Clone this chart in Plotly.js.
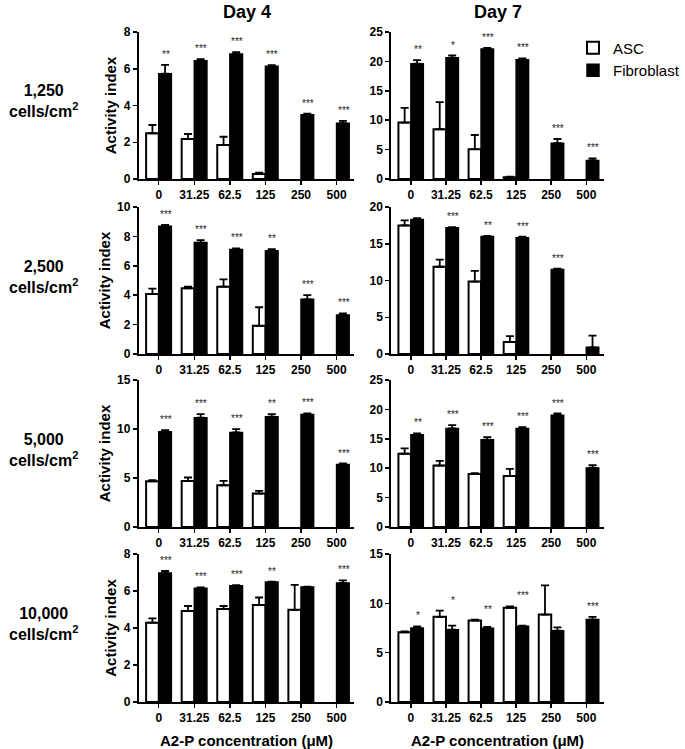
<!DOCTYPE html>
<html>
<head>
<meta charset="utf-8">
<script src="https://cdn.plot.ly/plotly-3.0.1.min.js"></script>
<style>html,body{margin:0;padding:0;background:#fff;}#chart{width:685px;height:749px;}</style>
</head>
<body>
<div id="chart"></div>
<script>
// ---------- DATA ----------
const categories = ['0', '31.25', '62.5', '125', '250', '500'];
const dayTitles = ['Day 4', 'Day 7'];
const densityLabels = ['1,250', '2,500', '5,000', '10,000'];
const seriesNames = ['ASC', 'Fibroblast'];

// Row 1: 1,250 cells/cm2
const d4r1Asc = [2.49, 2.18, 1.85, 0.27, null, null];
const d4r1AscErr = [0.45, 0.27, 0.45, 0.08, 0, 0];
const d4r1Fib = [5.73, 6.44, 6.80, 6.13, 3.49, 3.04];
const d4r1FibErr = [0.48, 0.08, 0.10, 0.07, 0.07, 0.12];
const d4r1Stars = ['**', '***', '***', '***', '***', '***'];

const d7r1Asc = [9.6, 8.46, 5.08, 0.28, null, null];
const d7r1AscErr = [2.5, 4.6, 2.4, 0.1, 0, 0];
const d7r1Fib = [19.6, 20.6, 22.1, 20.3, 6.1, 3.16];
const d7r1FibErr = [0.6, 0.4, 0.2, 0.2, 0.7, 0.34];
const d7r1Stars = ['**', '*', '***', '***', '***', '***'];

// Row 2: 2,500 cells/cm2
const d4r2Asc = [4.09, 4.47, 4.58, 1.92, null, null];
const d4r2AscErr = [0.36, 0.11, 0.5, 1.26, 0, 0];
const d4r2Fib = [8.69, 7.58, 7.11, 7.02, 3.72, 2.66];
const d4r2FibErr = [0.09, 0.16, 0.07, 0.11, 0.28, 0.11];
const d4r2Stars = ['***', '***', '***', '**', '***', '***'];

const d7r2Asc = [17.49, 11.87, 9.86, 1.64, null, null];
const d7r2AscErr = [0.68, 0.96, 1.46, 0.78, 0, 0];
const d7r2Fib = [18.3, 17.17, 15.98, 15.8, 11.5, 0.91];
const d7r2FibErr = [0.2, 0.1, 0.1, 0.18, 0.1, 1.6];
const d7r2Stars = ['', '***', '**', '***', '***', ''];

// Row 3: 5,000 cells/cm2
const d4r3Asc = [4.67, 4.70, 4.26, 3.41, null, null];
const d4r3AscErr = [0.1, 0.35, 0.44, 0.27, 0, 0];
const d4r3Fib = [9.72, 11.15, 9.65, 11.25, 11.49, 6.38];
const d4r3FibErr = [0.17, 0.37, 0.34, 0.27, 0.1, 0.1];
const d4r3Stars = ['***', '***', '***', '**', '***', '***'];

const d7r3Asc = [12.47, 10.44, 9.03, 8.69, null, null];
const d7r3AscErr = [0.9, 0.79, 0.11, 1.19, 0, 0];
const d7r3Fib = [15.69, 16.76, 14.84, 16.76, 19.02, 10.04];
const d7r3FibErr = [0.22, 0.56, 0.45, 0.23, 0.28, 0.46];
const d7r3Stars = ['**', '***', '***', '***', '***', '***'];

// Row 4: 10,000 cells/cm2
const d4r4Asc = [4.29, 4.92, 5.03, 5.25, 4.98, null];
const d4r4AscErr = [0.23, 0.27, 0.16, 0.4, 1.35, 0];
const d4r4Fib = [6.97, 6.15, 6.28, 6.48, 6.21, 6.43];
const d4r4FibErr = [0.11, 0.04, 0.04, 0.02, 0.03, 0.14];
const d4r4Stars = ['***', '***', '***', '**', '', '***'];

const d7r4Asc = [7.06, 8.63, 8.25, 9.55, 8.86, null];
const d7r4AscErr = [0.1, 0.64, 0.1, 0.13, 2.97, 0];
const d7r4Fib = [7.5, 7.33, 7.47, 7.67, 7.23, 8.35];
const d7r4FibErr = [0.17, 0.41, 0.13, 0.07, 0.34, 0.28];
const d7r4Stars = ['*', '*', '**', '***', '', '***'];

const yMax = [[8, 25], [10, 20], [15, 25], [8, 15]];
const yStep = [[2, 5], [2, 5], [5, 5], [2, 5]];

const panels = [
  [[d4r1Asc, d4r1AscErr, d4r1Fib, d4r1FibErr, d4r1Stars], [d7r1Asc, d7r1AscErr, d7r1Fib, d7r1FibErr, d7r1Stars]],
  [[d4r2Asc, d4r2AscErr, d4r2Fib, d4r2FibErr, d4r2Stars], [d7r2Asc, d7r2AscErr, d7r2Fib, d7r2FibErr, d7r2Stars]],
  [[d4r3Asc, d4r3AscErr, d4r3Fib, d4r3FibErr, d4r3Stars], [d7r3Asc, d7r3AscErr, d7r3Fib, d7r3FibErr, d7r3Stars]],
  [[d4r4Asc, d4r4AscErr, d4r4Fib, d4r4FibErr, d4r4Stars], [d7r4Asc, d7r4AscErr, d7r4Fib, d7r4FibErr, d7r4Stars]]
];

// ---------- LAYOUT ----------
const W = 685, H = 749;
const FONT = "Arial, 'Liberation Sans', Helvetica, sans-serif";
const colPx = [[143, 365], [403, 622]];
const rowPx = [[32, 179], [207, 354], [380, 527], [554, 702]];

const traces = [];
const annotations = [];
const layout = {
  width: W, height: H,
  margin: {l: 0, r: 0, t: 0, b: 0},
  paper_bgcolor: '#fff', plot_bgcolor: '#fff',
  barmode: 'group', bargap: 0.29, bargroupgap: 0,
  font: {family: FONT, color: '#000'},
  showlegend: true,
  legend: {x: 0.862, y: 0.958, xanchor: 'left', yanchor: 'top',
    font: {family: FONT, size: 15, color: '#000'}, tracegroupgap: 0,
    bgcolor: 'rgba(0,0,0,0)', itemwidth: 30},
  annotations: annotations
};

let idx = 0;
for (let r = 0; r < 4; r++) {
  for (let c = 0; c < 2; c++) {
    idx++;
    const sfx = idx === 1 ? '' : String(idx);
    const xa = 'x' + sfx, ya = 'y' + sfx;
    const [asc, ascErr, fib, fibErr, stars] = panels[r][c];
    const zeros = categories.map(() => 0);
    traces.push({
      type: 'bar', name: seriesNames[0], x: categories, y: asc, xaxis: xa, yaxis: ya,
      marker: {color: '#fff', line: {color: '#000', width: 2}},
      error_y: {type: 'data', symmetric: false, array: ascErr, arrayminus: zeros, color: '#000', thickness: 1.8, width: 4},
      showlegend: idx === 1, legendgroup: 'asc', hoverinfo: 'skip'
    });
    traces.push({
      type: 'bar', name: seriesNames[1], x: categories, y: fib, xaxis: xa, yaxis: ya,
      marker: {color: '#000', line: {color: '#000', width: 1.5}},
      error_y: {type: 'data', symmetric: false, array: fibErr, arrayminus: zeros, color: '#000', thickness: 1.8, width: 4},
      showlegend: idx === 1, legendgroup: 'fib', hoverinfo: 'skip'
    });
    // significance stars above the highest error bar in each group (x as category index)
    categories.forEach((cat, i) => {
      if (!stars[i]) return;
      const top = Math.max((asc[i] || 0) + (ascErr[i] || 0), fib[i] + fibErr[i]);
      annotations.push({
        xref: xa, yref: ya, x: i, y: top, text: stars[i], showarrow: false,
        xshift: 7, yshift: 3, yanchor: 'bottom',
        font: {family: FONT, size: 10, color: '#222'}
      });
    });
    const xaxis = {
      domain: [colPx[c][0] / W, colPx[c][1] / W], anchor: ya,
      type: 'category', range: [-0.56, 5.5],
      showline: true, linecolor: '#000', linewidth: 2,
      ticks: 'outside', ticklen: 4, tickwidth: 1.5, tickcolor: '#000',
      showgrid: false, zeroline: false, fixedrange: true,
      tickfont: {family: FONT, size: 12, weight: 'bold', color: '#000'}
    };
    if (r === 3) xaxis.title = {text: 'A2-P concentration (μM)', font: {family: FONT, size: 15, weight: 'bold', color: '#000'}, standoff: 14};
    layout['xaxis' + sfx] = xaxis;
    const yaxis = {
      domain: [1 - rowPx[r][1] / H, 1 - rowPx[r][0] / H], anchor: xa,
      range: [0, yMax[r][c]], dtick: yStep[r][c], tick0: 0,
      showline: true, linecolor: '#000', linewidth: 2,
      ticks: 'outside', ticklen: 4, tickwidth: 1.5, tickcolor: '#000',
      showgrid: false, zeroline: false, fixedrange: true,
      tickfont: {family: FONT, size: 12, weight: 'bold', color: '#000'}
    };
    if (c === 0) yaxis.title = {text: 'Activity index', font: {family: FONT, size: 15, weight: 'bold', color: '#000'}, standoff: 3};
    layout['yaxis' + sfx] = yaxis;
  }
  annotations.push({
    xref: 'paper', yref: 'paper', x: 45 / W, y: 1 - ((rowPx[r][0] + rowPx[r][1]) / 2 - 4) / H,
    text: densityLabels[r] + '<br>cells/cm<sup>2</sup>', showarrow: false,
    xanchor: 'center', yanchor: 'middle', align: 'center',
    font: {family: FONT, size: 16, weight: 'bold', color: '#000'}
  });
}
dayTitles.forEach((t, c) => {
  annotations.push({
    xref: 'paper', yref: 'paper', x: (colPx[c][0] + colPx[c][1]) / 2 / W, y: 1 - 12 / H,
    text: t, showarrow: false, xanchor: 'center', yanchor: 'middle',
    font: {family: FONT, size: 18, weight: 'bold', color: '#000'}
  });
});

Plotly.newPlot('chart', traces, layout, {displayModeBar: false, staticPlot: true});
</script>
</body>
</html>
